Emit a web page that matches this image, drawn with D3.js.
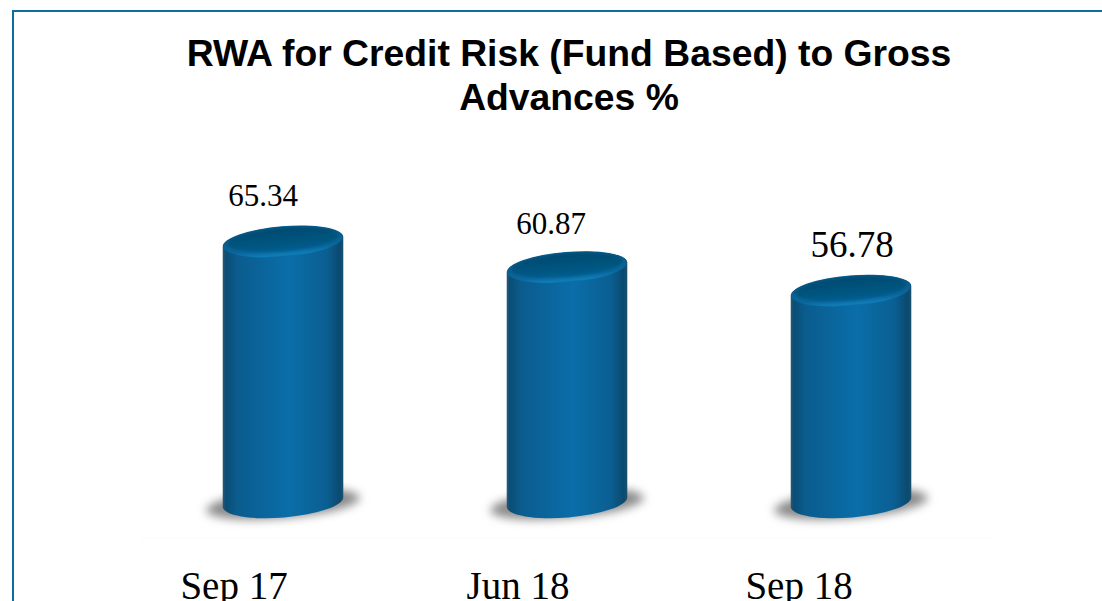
<!DOCTYPE html>
<html>
<head>
<meta charset="utf-8">
<script src="https://cdn.jsdelivr.net/npm/d3@7"></script>
<style>
  html, body { margin: 0; padding: 0; background: #fff; overflow: hidden; }
</style>
</head>
<body>
<div id="main"></div>
<script>
var titleLines = ["RWA for Credit Risk (Fund Based) to Gross", "Advances %"];
var categories = ["Sep 17", "Jun 18", "Sep 18"];
var values = [65.34, 60.87, 56.78];
var valueLabels = ["65.34", "60.87", "56.78"];

var dimensions = { width: 1102, height: 601 };
var tilt = -4.8;
var rx = 60.5, ry = 15.5;

var SVG = d3.select("#main")
  .append("svg")
    .attr("width", dimensions.width)
    .attr("height", dimensions.height)
    .style("display", "block");

var defs = SVG.append("defs");

// side of the cylinder
var side = defs.append("linearGradient").attr("id", "side");
[[0, "#2a5a78"], [0.025, "#0b4d75"], [0.12, "#0a5c8e"], [0.55, "#0a6ea9"], [0.86, "#0a5f92"], [0.97, "#0a4a70"], [1, "#1b4f6e"]].forEach(function(s) {
  side.append("stop").attr("offset", s[0]).attr("stop-color", s[1]);
});

// top of the cylinder
var cap = defs.append("linearGradient").attr("id", "cap").attr("x1", 0).attr("y1", 0).attr("x2", 0).attr("y2", 1);
[[0, "#034a72"], [0.6, "#04557f"], [1, "#075f90"]].forEach(function(s) {
  cap.append("stop").attr("offset", s[0]).attr("stop-color", s[1]);
});

// lighter lip below the top
var rim = defs.append("linearGradient").attr("id", "rim").attr("x1", 0).attr("y1", 0).attr("x2", 0).attr("y2", 1);
[[0, "#06557f"], [0.75, "#0a669c"], [0.94, "#0f7cb6"], [1, "#0a6ba3"]].forEach(function(s) {
  rim.append("stop").attr("offset", s[0]).attr("stop-color", s[1]);
});

defs.append("filter").attr("id", "blur")
    .attr("x", "-20%").attr("y", "-60%").attr("width", "140%").attr("height", "220%")
  .append("feGaussianBlur").attr("stdDeviation", 5);
defs.append("filter").attr("id", "soft")
    .attr("x", "-10%").attr("y", "-30%").attr("width", "120%").attr("height", "160%")
  .append("feGaussianBlur").attr("stdDeviation", 1.3);

// border
SVG.append("path")
  .attr("d", "M13,601V11H1102")
  .attr("fill", "none")
  .attr("stroke", "#0b6fa4")
  .attr("stroke-width", 2);

// title
var title = SVG.append("text")
  .attr("text-anchor", "middle")
  .style("font-family", "'Liberation Sans', Arial, sans-serif")
  .style("font-weight", "bold")
  .style("font-size", "37.3px")
  .attr("fill", "#000");
title.selectAll("tspan")
  .data(titleLines)
  .enter()
  .append("tspan")
    .attr("x", 569)
    .attr("y", function(d, i) { return 66 + i * 44; })
    .text(function(d) { return d; });

var x = d3.scaleBand()
  .domain(categories)
  .range([141, 993])
  .paddingInner(0.5775)
  .paddingOuter(0.28875);

var y = d3.scaleLinear()
  .domain([20, 70])
  .range([502, 215]);

// faint axis line and labels
var labelDx = [-49, -49, -52];
var xAxis = SVG.append("g")
  .attr("transform", "translate(0,538)")
  .call(d3.axisBottom(x).tickSize(0).tickPadding(33));
xAxis.select(".domain").attr("stroke", "#fafafa").attr("d", "M141,0H993");
xAxis.selectAll("text")
  .attr("dx", function(d, i) { return labelDx[i]; })
  .attr("fill", "#000")
  .style("font-family", "'Liberation Serif', serif")
  .style("font-size", "39px");

var rad = tilt * Math.PI / 180;
var dx = rx * Math.cos(rad), dy = rx * Math.sin(rad);

var bars = SVG.append("g")
  .selectAll("g")
  .data(values)
  .enter()
  .append("g");

var cx = function(d, i) { return x(categories[i]) + x.bandwidth() / 2; };

// ground shadow
bars.append("ellipse")
  .attr("rx", 77)
  .attr("ry", 14)
  .attr("transform", function(d, i) { return "translate(" + cx(d, i) + "," + (y(20) + 2) + ") rotate(" + tilt + ")"; })
  .attr("fill", "#8a8a8a")
  .attr("filter", "url(#blur)");

// body, bottom rim follows the same tilted ellipse
bars.append("path")
  .attr("d", function(d, i) {
    var c = cx(d, i), t = y(d), b = y(20);
    return "M" + (c - dx) + "," + (t - dy)
      + "L" + (c - dx) + "," + (b - dy)
      + "A" + rx + "," + ry + " " + tilt + " 0 0 " + (c + dx) + "," + (b + dy)
      + "L" + (c + dx) + "," + (t + dy)
      + "A" + rx + "," + ry + " " + tilt + " 0 0 " + (c - dx) + "," + (t - dy) + "Z";
  })
  .attr("fill", "url(#side)");

// bevelled rim, then the darker top
bars.append("ellipse")
  .attr("rx", rx - 0.5)
  .attr("ry", ry - 0.5)
  .attr("transform", function(d, i) { return "translate(" + cx(d, i) + "," + y(d) + ") rotate(" + tilt + ")"; })
  .attr("fill", "url(#rim)");
bars.append("ellipse")
  .attr("rx", rx - 5)
  .attr("ry", ry - 4)
  .attr("transform", function(d, i) { return "translate(" + cx(d, i) + "," + (y(d) - 2) + ") rotate(" + tilt + ")"; })
  .attr("fill", "url(#cap)")
  .attr("filter", "url(#soft)");

// value labels
var labelShift = [-20, -16, 1];
var labelSize = [31, 31, 37];
var labelGap = [36, 33, 34];
SVG.append("g")
  .selectAll("text")
  .data(valueLabels)
  .enter()
  .append("text")
    .attr("x", function(d, i) { return cx(d, i) + labelShift[i]; })
    .attr("y", function(d, i) { return y(values[i]) - labelGap[i]; })
    .attr("text-anchor", "middle")
    .attr("fill", "#000")
    .style("font-family", "'Liberation Serif', serif")
    .style("font-size", function(d, i) { return labelSize[i] + "px"; })
    .text(function(d) { return d; });
</script>
</body>
</html>
